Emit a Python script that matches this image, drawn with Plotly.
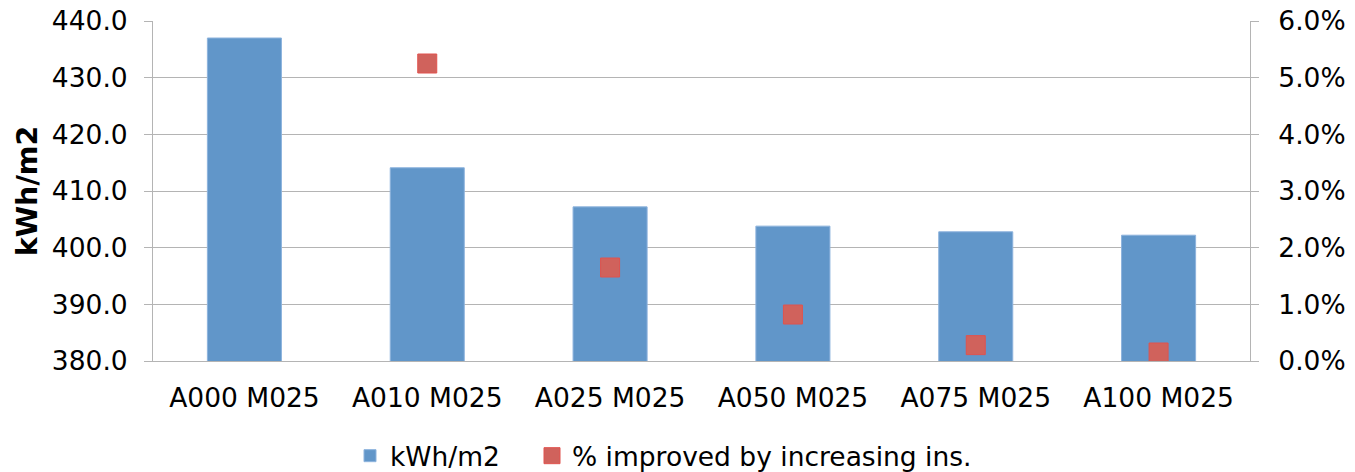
import plotly.graph_objects as go

categories = ["A000 M025", "A010 M025", "A025 M025", "A050 M025", "A075 M025", "A100 M025"]
kwh_values = [437.0, 414.1, 407.2, 403.8, 402.8, 402.2]
pct_categories = ["A010 M025", "A025 M025", "A050 M025", "A075 M025", "A100 M025"]
pct_values = [0.0525, 0.0165, 0.0082, 0.0028, 0.0015]

left_ticks = [380, 390, 400, 410, 420, 430, 440]
left_ticktext = ["380.0", "390.0", "400.0", "410.0", "420.0", "430.0", "440.0"]
right_ticks = [0, 0.01, 0.02, 0.03, 0.04, 0.05, 0.06]
right_ticktext = ["0.0%", "1.0%", "2.0%", "3.0%", "4.0%", "5.0%", "6.0%"]

FONT = "DejaVu Sans"
GRID = "#B4B4B4"
FS = 26.5

fig = go.Figure()
fig.add_trace(go.Bar(
    x=categories, y=kwh_values, name="kWh/m2",
    marker=dict(color="#6196C9", line=dict(color="#8DB3DD", width=1)),
    yaxis="y", legend="legend",
))
fig.add_trace(go.Scatter(
    x=pct_categories, y=pct_values, name="% improved by increasing ins.",
    mode="markers", yaxis="y2", legend="legend2",
    marker=dict(symbol="square", size=19, color="#D0625C",
                line=dict(color="#E0534E", width=1)),
))

legend_common = dict(orientation="h", xref="container", xanchor="left",
                     yref="container", y=0.034, yanchor="middle",
                     font=dict(family=FONT, size=FS, color="#000000"),
                     bgcolor="rgba(0,0,0,0)", borderwidth=0)

fig.update_layout(
    width=1355, height=472,
    margin=dict(l=153, r=105, t=21, b=111, autoexpand=False),
    paper_bgcolor="white", plot_bgcolor="white",
    bargap=0.595,
    font=dict(family=FONT, size=FS, color="#000000"),
    showlegend=True,
    legend=dict(x=350 / 1355, **legend_common),
    legend2=dict(x=532 / 1355, **legend_common),
    xaxis=dict(
        type="category", showgrid=False, showline=True, linecolor=GRID, linewidth=1,
        ticks="", tickfont=dict(family=FONT, size=FS, color="#000000"),
        range=[-0.5, 5.5], automargin=False, ticklabelstandoff=13,
    ),
    yaxis=dict(
        range=[380, 440], tickvals=left_ticks, ticktext=left_ticktext,
        showgrid=True, gridcolor=GRID, gridwidth=1,
        showline=True, linecolor=GRID, linewidth=1,
        ticks="outside", ticklen=8, tickcolor=GRID,
        tickfont=dict(family=FONT, size=FS, color="#000000"),
        ticklabelstandoff=11,
        title=dict(text="<b>kWh/m2</b>", font=dict(family=FONT, size=28.5, color="#000000"), standoff=5),
        zeroline=False, automargin=False,
    ),
    yaxis2=dict(
        range=[0, 0.06], tickvals=right_ticks, ticktext=right_ticktext,
        overlaying="y", side="right", showgrid=False,
        showline=True, linecolor=GRID, linewidth=1,
        ticks="outside", ticklen=8, tickcolor=GRID,
        tickfont=dict(family=FONT, size=FS, color="#000000"),
        ticklabelstandoff=14,
        zeroline=False, automargin=False,
    ),
)

fig.write_html("out.html")
